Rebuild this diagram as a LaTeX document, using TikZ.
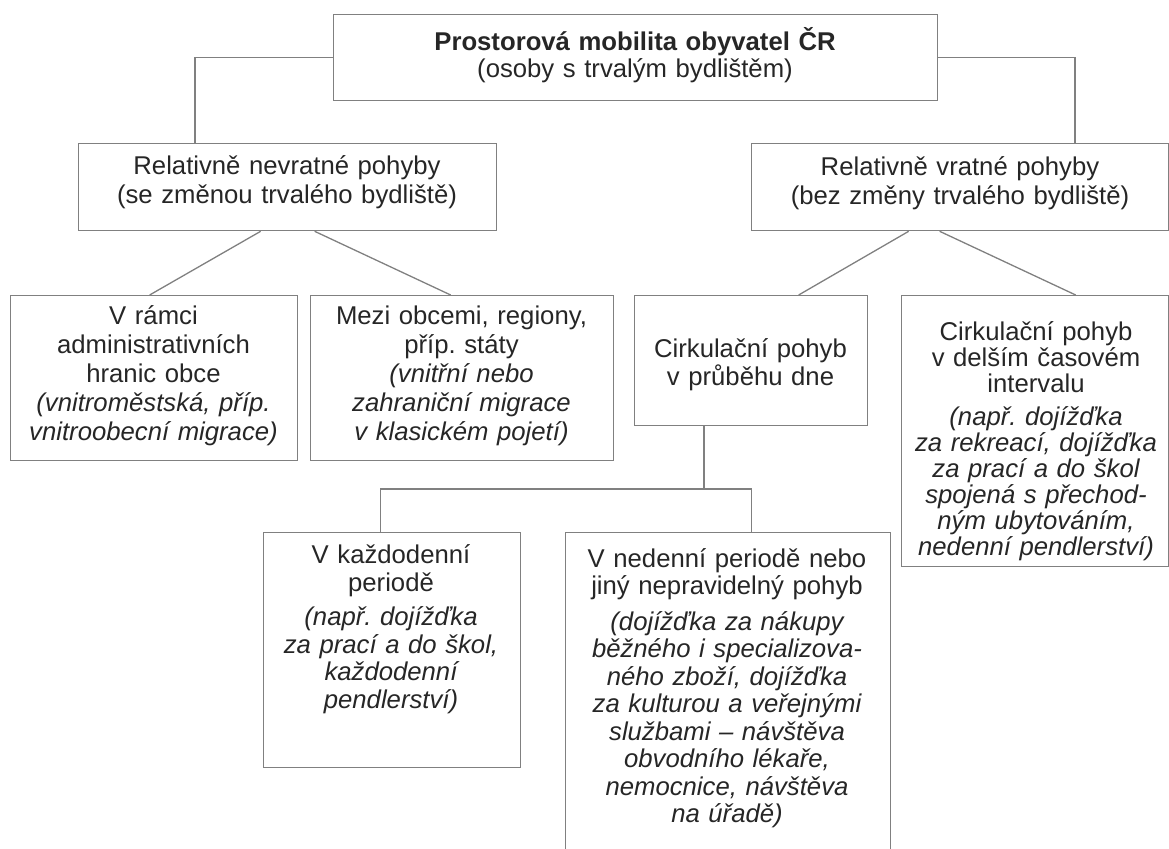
\documentclass[tikz,border=0pt]{standalone}
\usepackage{fontspec}
\setmainfont{Liberation Sans}
\frenchspacing
\usetikzlibrary{calc,positioning}
\tikzset{
	box/.style={
		draw=black!50, line width=1.3pt,
		anchor=north west,
		inner sep=0pt
	},
	txt/.style={
		text width=420pt,
		align=center,
		text=black!85,
		inner sep=0pt
	},
	line/.style={draw=black!50, line width=1.3pt},
	font={\fontsize{25.7}{27.5}\selectfont},
	loose/.style={font={\fontsize{25.7}{29}\selectfont}},
	tight/.style={font={\fontsize{25.7}{26}\selectfont}},
}
\begin{document}
\begin{tikzpicture}[x=1pt,y=-1pt]
	\useasboundingbox (0,0) rectangle (1169,848);
	% boxes
	\node[box, minimum width=604pt, minimum height=86pt] (top) at (333,14) {};
	\node[box, minimum width=418pt, minimum height=87pt] (nevr) at (78,143) {};
	\node[box, minimum width=417pt, minimum height=87pt] (vrat) at (751,143) {};
	\node[box, minimum width=287pt, minimum height=165pt] (admin) at (10,295) {};
	\node[box, minimum width=303pt, minimum height=165pt] (mezi) at (310,295) {};
	\node[box, minimum width=233pt, minimum height=130pt] (denni) at (634,295) {};
	\node[box, minimum width=267pt, minimum height=271pt] (delsi) at (901,295) {};
	\node[box, minimum width=257pt, minimum height=235pt] (kazdo) at (263,532) {};
	\node[box, minimum width=325pt, minimum height=340pt] (neden) at (565,532) {};
	% texts
	\node[txt] (top-t) at (635,55) {\textbf{Prostorová mobilita obyvatel ČR}\\(osoby s trvalým bydlištěm)};
	\node[txt, loose] (nevr-t) at (287,182) {Relativně nevratné pohyby\\(se změnou trvalého bydliště)};
	\node[txt, loose] (vrat-t) at (960,183) {Relativně vratné pohyby\\(bez změny trvalého bydliště)};
	\node[txt, loose] (admin-t) at (153.5,376) {V rámci\\administrativních\\hranic obce\\{\itshape (vnitroměstská, příp.\\vnitroobecní migrace)}};
	\node[txt, loose] (mezi-t) at (461.5,376) {Mezi obcemi, regiony,\\příp. státy\\{\itshape (vnitřní nebo\\zahraniční migrace\\v klasickém pojetí)}};
	\node[txt] (denni-t) at (750.5,364.5) {Cirkulační pohyb\\v průběhu dne};
	\node[txt, tight] (delsi-t) at (1036,441) {Cirkulační pohyb\\v delším časovém\\intervalu\\[7.5pt]{\itshape (např. dojížďka\\za rekreací, dojížďka\\za prací a do škol\\spojená s přechod-\\ným ubytováním,\\nedenní pendlerství)}};
	\node[txt] (kazdo-t) at (391,629) {V každodenní\\periodě\\[7pt]{\itshape (např. dojížďka\\za prací a do škol,\\každodenní\\pendlerství)}};
	\node[txt] (neden-t) at (727,688) {V nedenní periodě nebo\\jiný nepravidelný pohyb\\[8pt]{\itshape (dojížďka za nákupy\\běžného i specializova-\\ného zboží, dojížďka\\za kulturou a veřejnými\\službami – návštěva\\obvodního lékaře,\\nemocnice, návštěva\\na úřadě)}};
	% connectors
	\coordinate (nevr-in) at (195,143);
	\coordinate (vrat-in) at (1075,143);
	\coordinate (fork) at (704,489);
	\draw[line] (top.west) -| (nevr-in);
	\draw[line] (top.east) -| (vrat-in);
	\foreach \from/\fx/\to/\tx in {nevr/-27/admin/-4.5, nevr/27/mezi/-11.5, vrat/-51.5/denni/47.5, vrat/-20.5/delsi/40.5}
		\draw[line] ($(\from.south)+(\fx,0)$) -- ($(\to.north)+(\tx,0)$);
	\draw[line] (denni.south -| fork) -- (fork);
	\draw[line] ($(kazdo.north)+(-11.5,0)$) |- (fork) -| ($(neden.north)+(23.5,0)$);
\end{tikzpicture}
\end{document}
